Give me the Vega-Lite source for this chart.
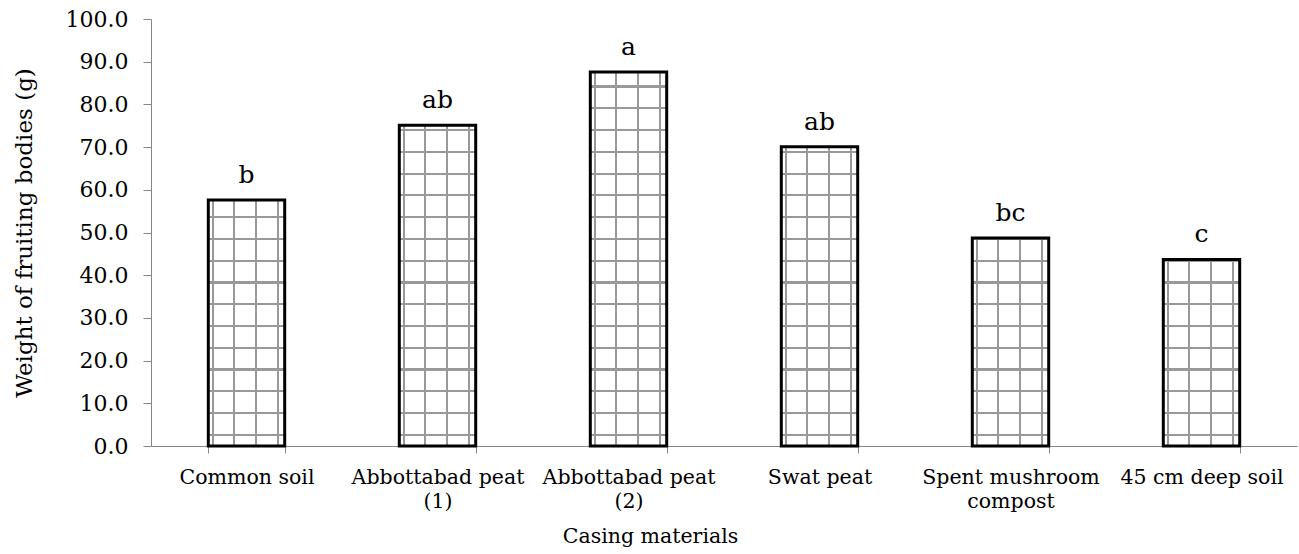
{
  "$schema": "https://vega.github.io/schema/vega-lite/v6.json",
  "width": 1146,
  "height": 427,
  "autosize": {"type": "none"},
  "padding": {"left": 151, "top": 19, "right": 2, "bottom": 108},
  "background": "white",
  "config": {"view": {"stroke": null}},
  "data": {
    "values": [
      {"m": "Common soil", "w": 57.6, "g": "b"},
      {"m": "Abbottabad peat (1)", "w": 75.1, "g": "ab"},
      {"m": "Abbottabad peat (2)", "w": 87.6, "g": "a"},
      {"m": "Swat peat", "w": 70.1, "g": "ab"},
      {"m": "Spent mushroom compost", "w": 48.7, "g": "bc"},
      {"m": "45 cm deep soil", "w": 43.7, "g": "c"}
    ]
  },
  "encoding": {
    "x": {
      "field": "m",
      "type": "nominal",
      "sort": null,
      "scale": {"paddingInner": 0.6, "paddingOuter": 0.3},
      "axis": {
        "title": "Casing materials",
        "labelAngle": 0,
        "tickBand": "extent",
        "labelExpr": "datum.value == 'Abbottabad peat (1)' ? ['Abbottabad peat', '(1)'] : datum.value == 'Abbottabad peat (2)' ? ['Abbottabad peat', '(2)'] : datum.value == 'Spent mushroom compost' ? ['Spent mushroom', 'compost'] : datum.label",
        "labelLineHeight": 24,
        "labelFont": "DejaVu Serif",
        "labelFontSize": 20.5,
        "labelColor": "black",
        "labelPadding": 14,
        "tickSize": 7,
        "tickColor": "#868686",
        "domainColor": "#868686",
        "titleFont": "DejaVu Serif",
        "titleFontSize": 20.5,
        "titleFontWeight": "normal",
        "titleColor": "black",
        "titleX": 499,
        "titleAlign": "center",
        "titleY": 96,
        "titleBaseline": "alphabetic"
      }
    },
    "y": {
      "field": "w",
      "type": "quantitative",
      "scale": {"domain": [0, 100], "nice": false},
      "axis": {
        "title": "Weight of fruiting bodies (g)",
        "values": [0, 10, 20, 30, 40, 50, 60, 70, 80, 90, 100],
        "format": ".1f",
        "grid": false,
        "labelFont": "DejaVu Serif",
        "labelFontSize": 22,
        "labelColor": "black",
        "labelPadding": 15,
        "tickSize": 8,
        "tickColor": "#868686",
        "domainColor": "#868686",
        "titleFont": "DejaVu Serif",
        "titleFontSize": 23,
        "titleFontWeight": "normal",
        "titleColor": "black",
        "titleX": -120,
        "titleY": 213.5,
        "titleBaseline": "alphabetic"
      }
    }
  },
  "layer": [
    {
      "mark": {
        "type": "bar",
        "fill": {
          "gradient": "linear",
          "x1": 0, "y1": 0, "x2": 1, "y2": 0,
          "stops": [
            {"offset": 0, "color": "#ffffff"},
            {"offset": 0.052, "color": "#ffffff"},
            {"offset": 0.052, "color": "#999999"},
            {"offset": 0.078, "color": "#999999"},
            {"offset": 0.078, "color": "#ffffff"},
            {"offset": 0.327, "color": "#ffffff"},
            {"offset": 0.327, "color": "#999999"},
            {"offset": 0.353, "color": "#999999"},
            {"offset": 0.353, "color": "#ffffff"},
            {"offset": 0.611, "color": "#ffffff"},
            {"offset": 0.611, "color": "#999999"},
            {"offset": 0.637, "color": "#999999"},
            {"offset": 0.637, "color": "#ffffff"},
            {"offset": 0.895, "color": "#ffffff"},
            {"offset": 0.895, "color": "#999999"},
            {"offset": 0.921, "color": "#999999"},
            {"offset": 0.921, "color": "#ffffff"},
            {"offset": 1, "color": "#ffffff"}
          ]
        },
        "strokeWidth": 0
      }
    },
    {
      "mark": {
        "type": "bar",
        "fill": {"expr": "{gradient:'linear',x1:1,y1:0,x2:1,y2:1,stops:[{offset:0,color:'rgba(255,255,255,0)'},{offset:max(0,1-84.45/datum.w),color:'rgba(255,255,255,0)'},{offset:max(0,1-84.45/datum.w),color:'#999999'},{offset:max(0,1-83.95/datum.w),color:'#999999'},{offset:max(0,1-83.95/datum.w),color:'rgba(255,255,255,0)'},{offset:max(0,1-79.35/datum.w),color:'rgba(255,255,255,0)'},{offset:max(0,1-79.35/datum.w),color:'#999999'},{offset:max(0,1-78.85/datum.w),color:'#999999'},{offset:max(0,1-78.85/datum.w),color:'rgba(255,255,255,0)'},{offset:max(0,1-74.25/datum.w),color:'rgba(255,255,255,0)'},{offset:max(0,1-74.25/datum.w),color:'#999999'},{offset:max(0,1-73.75/datum.w),color:'#999999'},{offset:max(0,1-73.75/datum.w),color:'rgba(255,255,255,0)'},{offset:max(0,1-69.15/datum.w),color:'rgba(255,255,255,0)'},{offset:max(0,1-69.15/datum.w),color:'#999999'},{offset:max(0,1-68.65/datum.w),color:'#999999'},{offset:max(0,1-68.65/datum.w),color:'rgba(255,255,255,0)'},{offset:max(0,1-64.05/datum.w),color:'rgba(255,255,255,0)'},{offset:max(0,1-64.05/datum.w),color:'#999999'},{offset:max(0,1-63.55/datum.w),color:'#999999'},{offset:max(0,1-63.55/datum.w),color:'rgba(255,255,255,0)'},{offset:max(0,1-58.95/datum.w),color:'rgba(255,255,255,0)'},{offset:max(0,1-58.95/datum.w),color:'#999999'},{offset:max(0,1-58.45/datum.w),color:'#999999'},{offset:max(0,1-58.45/datum.w),color:'rgba(255,255,255,0)'},{offset:max(0,1-53.85/datum.w),color:'rgba(255,255,255,0)'},{offset:max(0,1-53.85/datum.w),color:'#999999'},{offset:max(0,1-53.35/datum.w),color:'#999999'},{offset:max(0,1-53.35/datum.w),color:'rgba(255,255,255,0)'},{offset:max(0,1-48.75/datum.w),color:'rgba(255,255,255,0)'},{offset:max(0,1-48.75/datum.w),color:'#999999'},{offset:max(0,1-48.25/datum.w),color:'#999999'},{offset:max(0,1-48.25/datum.w),color:'rgba(255,255,255,0)'},{offset:max(0,1-43.65/datum.w),color:'rgba(255,255,255,0)'},{offset:max(0,1-43.65/datum.w),color:'#999999'},{offset:max(0,1-43.15/datum.w),color:'#999999'},{offset:max(0,1-43.15/datum.w),color:'rgba(255,255,255,0)'},{offset:max(0,1-38.55/datum.w),color:'rgba(255,255,255,0)'},{offset:max(0,1-38.55/datum.w),color:'#999999'},{offset:max(0,1-38.05/datum.w),color:'#999999'},{offset:max(0,1-38.05/datum.w),color:'rgba(255,255,255,0)'},{offset:max(0,1-33.45/datum.w),color:'rgba(255,255,255,0)'},{offset:max(0,1-33.45/datum.w),color:'#999999'},{offset:max(0,1-32.95/datum.w),color:'#999999'},{offset:max(0,1-32.95/datum.w),color:'rgba(255,255,255,0)'},{offset:max(0,1-28.35/datum.w),color:'rgba(255,255,255,0)'},{offset:max(0,1-28.35/datum.w),color:'#999999'},{offset:max(0,1-27.85/datum.w),color:'#999999'},{offset:max(0,1-27.85/datum.w),color:'rgba(255,255,255,0)'},{offset:max(0,1-23.25/datum.w),color:'rgba(255,255,255,0)'},{offset:max(0,1-23.25/datum.w),color:'#999999'},{offset:max(0,1-22.75/datum.w),color:'#999999'},{offset:max(0,1-22.75/datum.w),color:'rgba(255,255,255,0)'},{offset:max(0,1-18.15/datum.w),color:'rgba(255,255,255,0)'},{offset:max(0,1-18.15/datum.w),color:'#999999'},{offset:max(0,1-17.65/datum.w),color:'#999999'},{offset:max(0,1-17.65/datum.w),color:'rgba(255,255,255,0)'},{offset:max(0,1-13.05/datum.w),color:'rgba(255,255,255,0)'},{offset:max(0,1-13.05/datum.w),color:'#999999'},{offset:max(0,1-12.55/datum.w),color:'#999999'},{offset:max(0,1-12.55/datum.w),color:'rgba(255,255,255,0)'},{offset:max(0,1-7.95/datum.w),color:'rgba(255,255,255,0)'},{offset:max(0,1-7.95/datum.w),color:'#999999'},{offset:max(0,1-7.45/datum.w),color:'#999999'},{offset:max(0,1-7.45/datum.w),color:'rgba(255,255,255,0)'},{offset:max(0,1-2.85/datum.w),color:'rgba(255,255,255,0)'},{offset:max(0,1-2.85/datum.w),color:'#999999'},{offset:max(0,1-2.35/datum.w),color:'#999999'},{offset:max(0,1-2.35/datum.w),color:'rgba(255,255,255,0)'},{offset:1,color:'rgba(255,255,255,0)'}]}"},
        "stroke": "black",
        "strokeWidth": 3
      }
    },
    {
      "mark": {
        "type": "text",
        "baseline": "alphabetic",
        "dy": -17,
        "font": "DejaVu Serif",
        "fontSize": 25,
        "color": "black"
      },
      "encoding": {"text": {"field": "g"}}
    }
  ]
}
